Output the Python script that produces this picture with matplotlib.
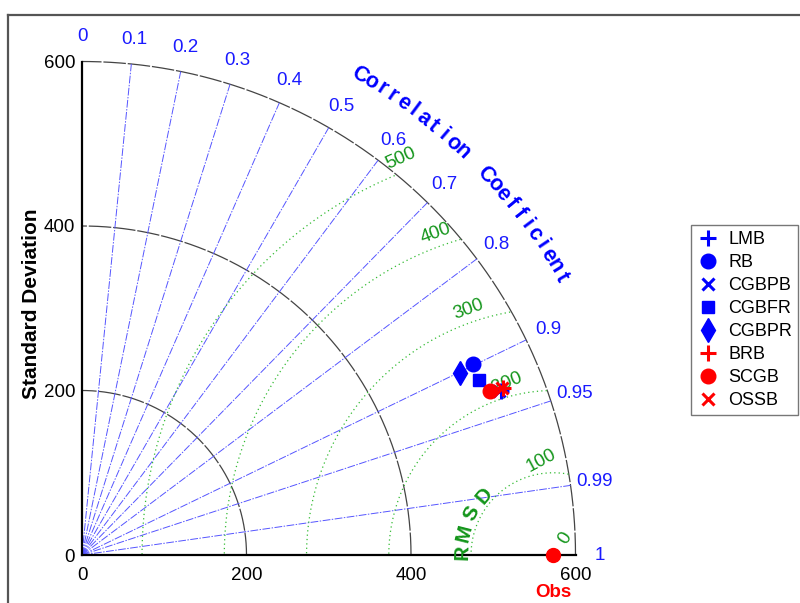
import numpy as np
import matplotlib.pyplot as plt
from matplotlib.lines import Line2D

plt.rcParams['font.family'] = ['Liberation Sans', 'DejaVu Sans']

# reference (observed) standard deviation
obs_std = 573

# model statistics
models = ['LMB', 'RB', 'CGBPB', 'CGBFR', 'CGBPR', 'BRB', 'SCGB', 'OSSB']
model_std = [547, 529, 545, 528, 510, 551, 535, 550]
model_corr = [0.931, 0.899, 0.931, 0.915, 0.901, 0.930, 0.928, 0.929]
markers = ['+', 'o', 'x', 's', 'd', '+', 'o', 'x']
colors = ['blue', 'blue', 'blue', 'blue', 'blue', 'red', 'red', 'red']
msizes = [11, 10.5, 8, 8.5, 12.5, 11, 10.5, 8]
mwidths = [2.2, 1, 2.2, 1, 1, 2.2, 1, 2.2]

corr_ticks = [0, 0.1, 0.2, 0.3, 0.4, 0.5, 0.6, 0.7, 0.8, 0.9, 0.95, 0.99, 1]
std_ticks = [0, 200, 400, 600]
rms_levels = [0, 100, 200, 300, 400, 500]
rms_label_ang = [55, 97, 105, 109, 110, 111]
rms_label_rot = [58, 28, 22, 20, 20, 24]

rmax = 600
green = '#13951a'
cblue = '#1a1aff'

fig = plt.figure(figsize=(8, 6.03), dpi=100)
ax = fig.add_axes([82 / 800, 48 / 603, 493.5 / 800, 493.5 / 603])
ax.set_xlim(0, rmax)
ax.set_ylim(0, rmax)

# std arcs
t = np.linspace(0, np.pi / 2, 300)
for s in std_ticks[1:]:
    ax.plot(s * np.cos(t), s * np.sin(t), color='#444444', lw=0.9,
            ls=(0, (18, 1.5)), clip_on=False)

# correlation lines and labels
for c in corr_ticks:
    a = np.arccos(c)
    if 0 < c < 1:
        ax.plot([0, rmax * np.cos(a)], [0, rmax * np.sin(a)], color='#5555ff',
                lw=0.7, ls=(0, (8, 1.5, 1.5, 1.5)), clip_on=False)
    ax.text(630 * np.cos(a), 630 * np.sin(a), str(c), color=cblue, fontsize=13.5,
            ha='center', va='center', clip_on=False)

# RMSD contours around obs
th = np.linspace(0, np.pi, 600)
for rl, la, lr in zip(rms_levels, rms_label_ang, rms_label_rot):
    if rl > 0:
        x = obs_std + rl * np.cos(th)
        y = rl * np.sin(th)
        m = np.hypot(x, y) > rmax
        x[m] = np.nan
        y[m] = np.nan
        ax.plot(x, y, color='#33bb33', lw=0.9, ls=(0, (1, 2.5)), clip_on=False)
    d = rl + 16 if rl > 0 else 25
    ax.text(obs_std + d * np.cos(np.radians(la)), d * np.sin(np.radians(la)),
            str(rl), color=green, fontsize=13.5, rotation=lr,
            ha='center', va='center', clip_on=False)

# RMSD curved label
for ch, ang in zip('RMSD', [178, 166, 153, 139.5]):
    a = np.radians(ang)
    ax.text(obs_std + 111 * np.cos(a), 111 * np.sin(a), ch, color=green,
            fontsize=15, fontweight='bold', rotation=ang - 90,
            ha='center', va='center', clip_on=False)

# curved correlation title
ang = 59.9
step = 1.32
for ch in 'Correlation Coefficient':
    if ch == ' ':
        ang -= step * 1.58
        continue
    a = np.radians(ang)
    ax.text(674 * np.cos(a), 674 * np.sin(a), ch, color='blue', fontsize=15.5,
            fontweight='bold', rotation=ang - 90, ha='center', va='center',
            clip_on=False)
    ang -= step

# points
for name, s, c, mk, col, ms, mw in zip(models, model_std, model_corr, markers,
                                       colors, msizes, mwidths):
    a = np.arccos(c)
    ax.plot(s * np.cos(a), s * np.sin(a), ls='none', marker=mk, color=col,
            ms=ms, mew=mw, label=name, clip_on=False, zorder=5)

ax.plot(obs_std, 0, 'o', color='red', ms=10, clip_on=False, zorder=5)
ax.text(obs_std, -45, 'Obs', color='red', fontsize=13.5, fontweight='bold',
        ha='center', va='center')

for sp in ['top', 'right']:
    ax.spines[sp].set_visible(False)
for sp in ['left', 'bottom']:
    ax.spines[sp].set_linewidth(1.6)
ax.set_xticks(std_ticks)
ax.set_yticks(std_ticks)
ax.tick_params(length=0, labelsize=13.5)
ax.tick_params(axis='x', pad=9)
ax.tick_params(axis='y', pad=5)
ax.set_ylabel('Standard Deviation', fontsize=15, fontweight='bold', va='center')
ax.yaxis.set_label_coords(-0.103, 0.51)

fig.legend(loc='upper left', bbox_to_anchor=(691 / 800, 1 - 225 / 603),
           borderaxespad=0, fontsize=13, fancybox=False, edgecolor='#777777',
           framealpha=1, labelspacing=0.33, handletextpad=0.5, borderpad=0.35,
           handlelength=1.2)

# figure border (top and left)
fig.add_artist(Line2D([8 / 800, 8 / 800], [0, 1 - 15 / 603], color='#555555',
                      lw=1.6, transform=fig.transFigure))
fig.add_artist(Line2D([8 / 800, 1], [1 - 15 / 603, 1 - 15 / 603], color='#555555',
                      lw=1.6, transform=fig.transFigure))

fig.savefig('out.png', dpi=100)
